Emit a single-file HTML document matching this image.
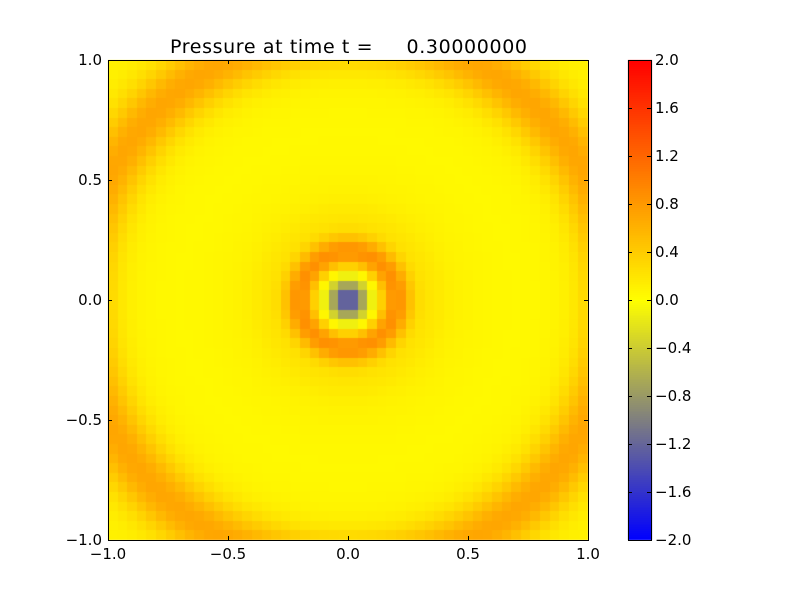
<!DOCTYPE html>
<html><head><meta charset="utf-8"><style>
html,body{margin:0;padding:0;background:#fff;}
#wrap{position:relative;width:800px;height:600px;background:#fff;font-family:"DejaVu Sans","Liberation Sans",sans-serif;}
canvas{position:absolute;left:0;top:0;}
svg{position:absolute;left:0;top:0;}
</style></head><body><div id="wrap">
<canvas id="c" width="800" height="600"></canvas>
<svg width="800" height="600" font-family="DejaVu Sans, Liberation Sans, sans-serif" font-size="15">
<rect x="108.5" y="60.5" width="480" height="480" fill="none" stroke="#000" stroke-width="1"/>
<rect x="628.5" y="60.5" width="23" height="480" fill="none" stroke="#000" stroke-width="1"/>
<g stroke="#000" stroke-width="1">
<line x1="108" y1="60.5" x2="112" y2="60.5"/><line x1="108" y1="180.5" x2="112" y2="180.5"/><line x1="108" y1="300.5" x2="112" y2="300.5"/><line x1="108" y1="420.5" x2="112" y2="420.5"/><line x1="108" y1="540.5" x2="112" y2="540.5"/>
<line x1="588" y1="60.5" x2="584" y2="60.5"/><line x1="588" y1="180.5" x2="584" y2="180.5"/><line x1="588" y1="300.5" x2="584" y2="300.5"/><line x1="588" y1="420.5" x2="584" y2="420.5"/><line x1="588" y1="540.5" x2="584" y2="540.5"/>
<line x1="108.5" y1="540" x2="108.5" y2="536"/><line x1="228.5" y1="540" x2="228.5" y2="536"/><line x1="348.5" y1="540" x2="348.5" y2="536"/><line x1="468.5" y1="540" x2="468.5" y2="536"/><line x1="588.5" y1="540" x2="588.5" y2="536"/>
<line x1="108.5" y1="60" x2="108.5" y2="64"/><line x1="228.5" y1="60" x2="228.5" y2="64"/><line x1="348.5" y1="60" x2="348.5" y2="64"/><line x1="468.5" y1="60" x2="468.5" y2="64"/><line x1="588.5" y1="60" x2="588.5" y2="64"/>
</g>
<g text-anchor="end">
<text x="102" y="65">1.0</text><text x="102" y="185">0.5</text><text x="102" y="305">0.0</text><text x="102" y="425">−0.5</text><text x="102" y="545">−1.0</text>
</g>
<g text-anchor="middle">
<text x="108" y="559">−1.0</text><text x="228" y="559">−0.5</text><text x="348" y="559">0.0</text><text x="468" y="559">0.5</text><text x="588" y="559">1.0</text>
</g>
<text x="170" y="53" font-size="19" xml:space="preserve" style="white-space:pre" textLength="357" lengthAdjust="spacing">Pressure at time t =     0.30000000</text>
<g id="cb"></g>
</svg>
<script>
var ctx=document.getElementById('c').getContext('2d');
function col(v){v=Math.max(-2,Math.min(2,v));var r,g,b;
if(v<0){var t=(v+2)/2;r=t;g=t;b=1-t;}else{var t=v/2;r=1;g=1-t;b=0;}
return 'rgb('+Math.round(r*255)+','+Math.round(g*255)+','+Math.round(b*255)+')';}
function p(x,y){var r=Math.sqrt(x*x+y*y);
return -1.5*Math.exp(-Math.pow(r/0.08,2))+0.75*Math.exp(-Math.pow((r-0.2)/0.065,2))
+0.1+0.1*Math.exp(-Math.pow((r-0.32)/0.1,2))-0.05*Math.exp(-Math.pow((r-0.7)/0.2,2))
+0.6*Math.exp(-Math.pow((r-1.12)/0.13,2));}
var N=50,s=480/N;
for(var i=0;i<N;i++)for(var j=0;j<N;j++){
var x=-1+(i+0.5)*2/N,y=1-(j+0.5)*2/N;
ctx.fillStyle=col(p(x,y));
var x0=Math.round(108+i*s),x1=Math.round(108+(i+1)*s),y0=Math.round(60+j*s),y1=Math.round(60+(j+1)*s);
ctx.fillRect(x0,y0,x1-x0,y1-y0);}
for(var k=0;k<480;k++){var v=2-4*(k+0.5)/480;ctx.fillStyle=col(v);ctx.fillRect(628,60+k,24,1);}
var cb=document.getElementById('cb'),h='';
var labs=['2.0','1.6','1.2','0.8','0.4','0.0','−0.4','−0.8','−1.2','−1.6','−2.0'];
for(var k=0;k<11;k++){var y=60+48*k;
h+='<line x1="651" y1="'+(y+0.5)+'" x2="647" y2="'+(y+0.5)+'" stroke="#000"/><line x1="628" y1="'+(y+0.5)+'" x2="632" y2="'+(y+0.5)+'" stroke="#000"/>';
h+='<text x="655" y="'+(y+5)+'">'+labs[k]+'</text>';}
cb.innerHTML=h;
</script>
</div></body></html>
